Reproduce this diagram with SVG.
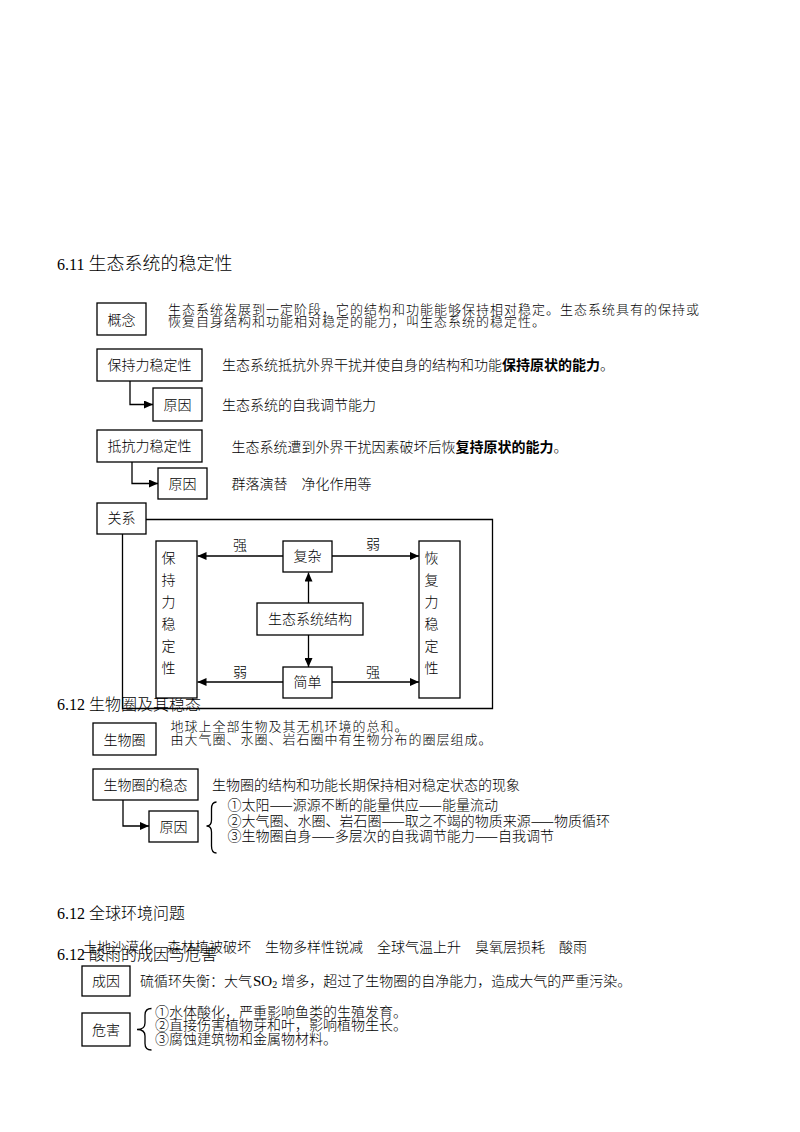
<svg xmlns="http://www.w3.org/2000/svg" width="800" height="1132" viewBox="0 0 800 1132">
<style>
text{font-family:"Noto Sans CJK SC","Noto Sans",sans-serif;font-size:14px;fill:#000;font-weight:300}
.c{text-anchor:middle}
.t{font-size:16px}
.t1{font-size:18px}
.sm{font-size:13px;letter-spacing:1px}
.lat{font-family:"Liberation Serif",serif;font-weight:400}
.b{font-weight:700}
.box{fill:#fff;stroke:#000;stroke-width:1.3}
.ln{fill:none;stroke:#000;stroke-width:1.3}
</style>
<defs>
<marker id="ah" markerUnits="userSpaceOnUse" markerWidth="9" markerHeight="8" refX="9" refY="4" orient="auto">
<path d="M0,0 L9,4 L0,8 z" fill="#000"/>
</marker>
</defs>
<rect width="800" height="1132" fill="#fff"/>

<g id="titles">
<text x="57" y="269.5" class="t1"><tspan class="lat" font-size="16">6.11 </tspan>生态系统的稳定性</text>
<text x="57" y="919" class="t"><tspan class="lat">6.12 </tspan>全球环境问题</text>
<text x="83" y="952">土地沙漠化　森林植被破坏　生物多样性锐减　全球气温上升　臭氧层损耗　酸雨</text>
<text x="57" y="959.5" class="t"><tspan class="lat">6.12 </tspan>酸雨的成因与危害</text>
</g>

<g id="connectors">
<path class="ln" d="M146,519.5 H492.5 V708.5 H122.5 V534"/>
<polyline class="ln" points="130,381 130,404.5 153,404.5" marker-end="url(#ah)"/>
<polyline class="ln" points="132,462 132,483.5 158,483.5" marker-end="url(#ah)"/>
<polyline class="ln" points="123,800 123,826 149,826" marker-end="url(#ah)"/>
<line class="ln" x1="283" y1="556" x2="197.5" y2="556" marker-end="url(#ah)"/>
<line class="ln" x1="332" y1="556" x2="419" y2="556" marker-end="url(#ah)"/>
<line class="ln" x1="308.5" y1="603" x2="308.5" y2="572.5" marker-end="url(#ah)"/>
<line class="ln" x1="308.5" y1="635" x2="308.5" y2="667" marker-end="url(#ah)"/>
<line class="ln" x1="283" y1="682" x2="197.5" y2="682" marker-end="url(#ah)"/>
<line class="ln" x1="332" y1="682" x2="419" y2="682" marker-end="url(#ah)"/>
<text x="240" y="550" class="c">强</text>
<text x="373" y="549" class="c">弱</text>
<text x="240" y="677" class="c">弱</text>
<text x="373" y="677" class="c">强</text>
</g>

<text x="57" y="710" class="t"><tspan class="lat">6.12 </tspan>生物圈及其稳态</text>

<g id="concept">
<rect class="box" x="97" y="303" width="49" height="32"/>
<text x="121.5" y="325" class="c">概念</text>
<text x="168" y="313.5" class="sm">生态系统发展到一定阶段，它的结构和功能能够保持相对稳定。生态系统具有的保持或</text>
<text x="168" y="325.5" class="sm">恢复自身结构和功能相对稳定的能力，叫生态系统的稳定性。</text>
</g>

<g id="resist">
<rect class="box" x="97" y="349" width="105" height="32"/>
<text x="149.5" y="370" class="c">保持力稳定性</text>
<text x="222" y="369.5">生态系统抵抗外界干扰并使自身的结构和功能<tspan class="b">保持原状的能力</tspan>。</text>
</g>

<g id="reason1">
<rect class="box" x="153" y="388" width="49" height="33"/>
<text x="177.5" y="409.5" class="c">原因</text>
<text x="222" y="409.5">生态系统的自我调节能力</text>
</g>

<g id="recover">
<rect class="box" x="97" y="430" width="105" height="32"/>
<text x="149.5" y="451" class="c">抵抗力稳定性</text>
<text x="231.5" y="451.5">生态系统遭到外界干扰因素破坏后恢<tspan class="b">复持原状的能力</tspan>。</text>
</g>

<g id="reason2">
<rect class="box" x="158" y="468" width="49" height="31"/>
<text x="182.5" y="488.5" class="c">原因</text>
<text x="231.5" y="488.5">群落演替　净化作用等</text>
</g>

<g id="relation">
<rect class="box" x="97" y="503" width="49" height="31"/>
<text x="121.5" y="523" class="c">关系</text>
</g>

<g id="keep-box">
<rect class="box" x="156" y="541" width="41" height="157"/>
<text x="168.5" y="563" class="c">保</text>
<text x="168.5" y="585" class="c">持</text>
<text x="168.5" y="607" class="c">力</text>
<text x="168.5" y="629" class="c">稳</text>
<text x="168.5" y="651" class="c">定</text>
<text x="168.5" y="673" class="c">性</text>
</g>

<g id="recover-box">
<rect class="box" x="419" y="541" width="41" height="157"/>
<text x="431.5" y="563" class="c">恢</text>
<text x="431.5" y="585" class="c">复</text>
<text x="431.5" y="607" class="c">力</text>
<text x="431.5" y="629" class="c">稳</text>
<text x="431.5" y="651" class="c">定</text>
<text x="431.5" y="673" class="c">性</text>
</g>

<g id="complex">
<rect class="box" x="283" y="541" width="49" height="31"/>
<text x="307.5" y="561" class="c">复杂</text>
</g>

<g id="structure">
<rect class="box" x="257" y="603" width="106" height="32"/>
<text x="310" y="623.5" class="c">生态系统结构</text>
</g>

<g id="simple">
<rect class="box" x="283" y="667" width="49" height="31"/>
<text x="307.5" y="687" class="c">简单</text>
</g>

<g id="biosphere">
<rect class="box" x="93" y="723" width="63" height="32"/>
<text x="124.5" y="744.5" class="c">生物圈</text>
<text x="170.5" y="731" class="sm">地球上全部生物及其无机环境的总和。</text>
<text x="170.5" y="743.5" class="sm">由大气圈、水圈、岩石圈中有生物分布的圈层组成。</text>
</g>

<g id="homeostasis">
<rect class="box" x="93" y="769" width="105" height="31"/>
<text x="145.5" y="789.5" class="c">生物圈的稳态</text>
<text x="212" y="789.5">生物圈的结构和功能长期保持相对稳定状态的现象</text>
</g>

<g id="reason3">
<rect class="box" x="149" y="811" width="49" height="31"/>
<text x="173.5" y="831.5" class="c">原因</text>
<path class="ln" d="M216.5,802 Q211.5,802 211.5,809 V820 Q211.5,826 206.5,826 Q211.5,826 211.5,832 V846 Q211.5,853 216.5,853"/>
<text x="227.5" y="810">①太阳——源源不断的能量供应——能量流动</text>
<text x="227.5" y="825.5">②大气圈、水圈、岩石圈——取之不竭的物质来源——物质循环</text>
<text x="227.5" y="840.5">③生物圈自身——多层次的自我调节能力——自我调节</text>
</g>

<g id="cause">
<rect class="box" x="82" y="966" width="48" height="30"/>
<text x="106" y="986" class="c">成因</text>
<text x="140" y="985.5">硫循环失衡：大气<tspan class="lat" font-size="15" dx="1">SO</tspan><tspan class="lat" font-size="10" dy="2">2</tspan><tspan dy="-2" dx="4">增多，超过了生物圈的自净能力，造成大气的严重污染。</tspan></text>
</g>

<g id="harm">
<rect class="box" x="82" y="1013" width="48" height="33"/>
<text x="106" y="1034.5" class="c">危害</text>
<path class="ln" d="M151.5,1008.5 Q145,1008.5 145,1015 V1023 Q145,1029.5 137,1029.5 Q145,1029.5 145,1036 V1043.5 Q145,1050 151.5,1050"/>
<text x="155" y="1016.5">①水体酸化，严重影响鱼类的生殖发育。</text>
<text x="155" y="1030">②直接伤害植物芽和叶，影响植物生长。</text>
<text x="155" y="1044">③腐蚀建筑物和金属物材料。</text>
</g>
</svg>
